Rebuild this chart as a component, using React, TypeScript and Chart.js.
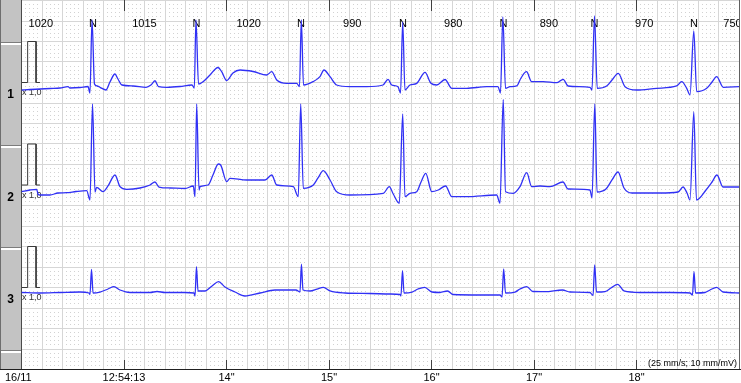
import React, { useEffect, useRef } from "react";
import { Chart, registerables } from "chart.js";

Chart.register(...registerables);

// ---- Data (time in s from 12:54:12, amplitude in mV) ----
const leadNames = ["1", "2", "3"];
const beatTimes = [0.698, 1.707, 2.727, 3.722, 4.702, 5.59, 6.561];
const beatCodes = ["N", "N", "N", "N", "N", "N", "N"];
const rrIntervals = [1020, 1015, 1020, 990, 980, 890, 970, 750];
const timeTicks = [1, 2, 3, 4, 5, 6];
const timeTickLabels = ["12:54:13", '14"', '15"', '16"', '17"', '18"'];
const dateLabel = "16/11";
const scaleNote = "(25 mm/s; 10 mm/mV)";
const gainLabel = "x 1,0";

const calTimes = [0.005, 0.06, 0.06, 0.142, 0.142, 0.18];
const calValues = [0, 0, 1, 1, 0, 0];

const lead1 = [
  [0.0, -0.183], [0.083, -0.171], [0.18, -0.159], [0.278, -0.146], [0.376, -0.134],
  [0.454, -0.102], [0.473, -0.134], [0.571, -0.122], [0.649, -0.098], [0.668, -0.256],
  [0.688, 1.524], [0.712, -0.037], [0.737, -0.085], [0.766, -0.117], [0.824, -0.183],
  [0.863, 0.012], [0.912, 0.207], [0.941, 0.085], [0.98, -0.061], [1.088, -0.085],
  [1.215, -0.117], [1.263, -0.061], [1.302, 0.043], [1.337, -0.102], [1.417, -0.117],
  [1.546, -0.098], [1.663, -0.061], [1.686, -0.134], [1.702, 1.524], [1.727, -0.037],
  [1.771, 0.02], [1.839, 0.183], [1.917, 0.366], [1.953, 0.263], [2.002, 0.049],
  [2.063, 0.232], [2.132, 0.305], [2.259, 0.268], [2.392, 0.183], [2.441, 0.263],
  [2.49, 0.061], [2.587, -0.02], [2.685, -0.02], [2.712, -0.102], [2.73, 1.524],
  [2.751, -0.061], [2.844, 0.02], [2.912, 0.142], [2.951, 0.305], [3.01, 0.142],
  [3.075, -0.061], [3.205, -0.102], [3.368, -0.102], [3.527, -0.061], [3.576, 0.078],
  [3.612, -0.061], [3.673, -0.102], [3.698, -0.256], [3.719, 1.476], [3.741, -0.183],
  [3.79, -0.061], [3.856, -0.02], [3.937, 0.249], [3.992, -0.012], [4.051, -0.061],
  [4.132, 0.073], [4.197, -0.142], [4.343, -0.142], [4.539, -0.102], [4.649, -0.102],
  [4.673, -0.256], [4.696, 1.598], [4.722, -0.142], [4.766, -0.102], [4.831, -0.085],
  [4.873, 0.11], [4.927, 0.263], [4.977, 0.02], [5.09, 0.02], [5.221, -0.005],
  [5.285, 0.078], [5.332, -0.085], [5.546, -0.117], [5.566, -0.183], [5.59, 1.622],
  [5.617, -0.142], [5.709, -0.085], [5.761, 0.061], [5.822, 0.224], [5.888, -0.102],
  [6.002, -0.183], [6.197, -0.142], [6.392, -0.085], [6.441, 0.02], [6.49, -0.142],
  [6.522, -0.305], [6.559, 1.256], [6.587, -0.224], [6.685, -0.142], [6.737, 0.012],
  [6.782, 0.141], [6.847, -0.117], [7.0, -0.102],
];

const lead2 = [
  [0.0, -0.163], [0.083, -0.122], [0.148, -0.105], [0.161, -0.22], [0.18, -0.244],
  [0.278, -0.244], [0.356, -0.195], [0.441, -0.188], [0.532, -0.159], [0.636, -0.139],
  [0.668, -0.366], [0.693, 1.976], [0.717, -0.171], [0.733, -0.056], [0.795, -0.163],
  [0.844, -0.024], [0.912, 0.244], [0.961, -0.041], [1.026, -0.105], [1.156, -0.073],
  [1.254, 0.0], [1.302, 0.073], [1.341, -0.049], [1.449, -0.073], [1.595, -0.085],
  [1.676, -0.024], [1.693, -0.285], [1.709, 1.976], [1.732, -0.122], [1.741, -0.041],
  [1.82, 0.0], [1.868, 0.244], [1.92, 0.512], [1.943, 0.488], [2.002, 0.08],
  [2.034, 0.163], [2.197, 0.122], [2.376, 0.122], [2.441, 0.244], [2.49, 0.0],
  [2.652, -0.041], [2.7, -0.285], [2.724, 1.976], [2.749, -0.08], [2.847, 0.0],
  [2.893, 0.171], [2.944, 0.349], [3.01, 0.122], [3.075, -0.163], [3.205, -0.244],
  [3.53, -0.202], [3.588, -0.041], [3.627, -0.22], [3.686, -0.446], [3.719, 1.732],
  [3.741, -0.285], [3.79, -0.202], [3.856, -0.163], [3.898, 0.073], [3.944, 0.285],
  [4.002, -0.163], [4.066, -0.122], [4.138, -0.024], [4.197, -0.285], [4.343, -0.285],
  [4.636, -0.244], [4.668, -0.446], [4.7, 2.085], [4.722, -0.163], [4.798, -0.202],
  [4.863, -0.041], [4.929, 0.3], [4.977, -0.041], [5.059, -0.024], [5.156, -0.041],
  [5.283, 0.073], [5.332, -0.098], [5.546, -0.122], [5.566, -0.317], [5.593, 1.976],
  [5.615, -0.171], [5.702, -0.098], [5.761, 0.122], [5.82, 0.317], [5.878, -0.073],
  [5.956, -0.195], [6.229, -0.195], [6.405, -0.171], [6.454, -0.049], [6.493, -0.195],
  [6.522, -0.366], [6.559, 1.78], [6.585, -0.366], [6.678, -0.122], [6.737, 0.073],
  [6.785, 0.244], [6.844, -0.049], [7.0, -0.049],
];

const lead3 = [
  [0.0, -0.122], [0.18, -0.134], [0.376, -0.122], [0.571, -0.11], [0.659, -0.134],
  [0.668, -0.171], [0.683, 0.444], [0.698, -0.134], [0.766, -0.11], [0.844, -0.037],
  [0.902, 0.02], [0.961, -0.061], [1.059, -0.122], [1.254, -0.122], [1.322, -0.098],
  [1.4, -0.122], [1.595, -0.122], [1.683, -0.134], [1.693, -0.207], [1.707, 0.507],
  [1.722, -0.085], [1.79, -0.085], [1.859, 0.037], [1.923, 0.141], [1.985, 0.012],
  [2.083, -0.11], [2.18, -0.207], [2.327, -0.134], [2.473, -0.061], [2.678, -0.061],
  [2.717, -0.11], [2.731, 0.568], [2.746, -0.061], [2.815, -0.085], [2.883, -0.037],
  [2.945, 0.005], [3.01, -0.085], [3.156, -0.134], [3.4, -0.146], [3.595, -0.159],
  [3.693, -0.171], [3.702, -0.207], [3.717, 0.41], [3.732, -0.134], [3.81, -0.11],
  [3.868, -0.037], [3.933, 0.005], [4.005, -0.11], [4.083, -0.122], [4.157, -0.085],
  [4.21, -0.171], [4.473, -0.183], [4.668, -0.183], [4.688, -0.232], [4.704, 0.451],
  [4.722, -0.134], [4.815, -0.11], [4.863, -0.037], [4.929, 0.02], [4.99, -0.098],
  [5.107, -0.102], [5.278, -0.061], [5.351, -0.11], [5.546, -0.122], [5.576, -0.195],
  [5.592, 0.549], [5.61, -0.11], [5.693, -0.098], [5.751, -0.012], [5.817, 0.078],
  [5.878, -0.085], [6.034, -0.122], [6.327, -0.122], [6.522, -0.134], [6.546, -0.183],
  [6.561, 0.385], [6.576, -0.134], [6.668, -0.122], [6.717, -0.061], [6.782, 0.005],
  [6.844, -0.11], [7.0, -0.134],
];

const leads = [lead1, lead2, lead3];

// ---- layout constants (paper: 25 mm/s, 10 mm/mV) ----
const STRIP_SECONDS = 7;
const STRIP_MM_HEIGHT = 90;
const LEAD_OFFSETS_MM = [70, 45, 20];
const MM_PER_MV = 10;
const TRACE_COLOR = "rgb(48,48,245)";
const FONT = '"Liberation Sans", Arial, sans-serif';

const ecgPlugin = {
  id: "ecgPaper",
  beforeDatasetsDraw(chart: any) {
    const ctx = chart.ctx as CanvasRenderingContext2D;
    const xs = chart.scales.x;
    const ys = chart.scales.y;
    const { left, right, top, bottom } = chart.chartArea;
    ctx.save();
    ctx.fillStyle = "#ffffff";
    ctx.fillRect(0, 0, chart.width, chart.height);

    // minor dots every 1 mm
    ctx.fillStyle = "#d2d2d2";
    for (let i = 0; i <= STRIP_SECONDS * 25; i++) {
      const px = Math.floor(xs.getPixelForValue(i * 0.04));
      for (let j = 0; j <= STRIP_MM_HEIGHT; j++) {
        const py = Math.floor(ys.getPixelForValue(j));
        ctx.fillRect(px, py, 1, 1);
      }
    }
    // major lines every 5 mm
    ctx.strokeStyle = "#d6d6d6";
    ctx.lineWidth = 1;
    ctx.beginPath();
    for (let i = 0; i <= STRIP_SECONDS * 5; i++) {
      const px = Math.floor(xs.getPixelForValue(i * 0.2)) + 0.5;
      ctx.moveTo(px, top);
      ctx.lineTo(px, bottom);
    }
    for (let j = 0; j <= STRIP_MM_HEIGHT; j += 5) {
      const py = Math.floor(ys.getPixelForValue(j)) + 0.5;
      ctx.moveTo(left, py);
      ctx.lineTo(right, py);
    }
    ctx.stroke();

    // left panel
    const pl = 0;
    const pr = Math.floor(left);
    ctx.fillStyle = "#c3c3c3";
    ctx.fillRect(pl, 0, pr - pl, bottom);
    const seps = [LEAD_OFFSETS_MM[0] + 9.5, LEAD_OFFSETS_MM[1] + 9.5, LEAD_OFFSETS_MM[2] + 9.5, LEAD_OFFSETS_MM[2] - 15.5];
    seps.forEach((mm) => {
      const py = Math.floor(ys.getPixelForValue(mm));
      ctx.fillStyle = "#7c7c7c";
      ctx.fillRect(pl, py - 1, pr - pl, 1);
      ctx.fillStyle = "#ffffff";
      ctx.fillRect(pl, py, pr - pl, 2);
    });
    ctx.fillStyle = "#6e6e6e";
    ctx.fillRect(0, 0, 1, bottom);
    ctx.fillStyle = "#4a4a4a";
    ctx.fillRect(pr, 0, 1, bottom);

    // right border
    ctx.fillStyle = "#606060";
    ctx.fillRect(Math.floor(right), 0, 1, bottom);

    // time ticks top and bottom
    ctx.strokeStyle = "#404040";
    ctx.beginPath();
    timeTicks.forEach((t) => {
      const px = Math.floor(xs.getPixelForValue(t)) + 0.5;
      ctx.moveTo(px, 0);
      ctx.lineTo(px, top + 10.5);
      ctx.moveTo(px, bottom - 9.5);
      ctx.lineTo(px, bottom);
    });
    ctx.stroke();

    // bottom axis line
    ctx.fillStyle = "#202020";
    ctx.fillRect(0, Math.floor(bottom), chart.width, 1);

    // top annotations
    ctx.fillStyle = "#000";
    ctx.font = "11px " + FONT;
    ctx.textAlign = "center";
    ctx.textBaseline = "middle";
    ctx.save();
    ctx.beginPath();
    ctx.rect(left, 0, right - left, bottom);
    ctx.clip();
    const ly = top + 23.5;
    beatTimes.forEach((t, i) => {
      ctx.fillText(beatCodes[i], xs.getPixelForValue(t), ly);
    });
    rrIntervals.forEach((rr, i) => {
      const t = i < beatTimes.length ? beatTimes[i] - rr / 2000 : beatTimes[beatTimes.length - 1] + rr / 2000;
      ctx.fillText(String(rr), xs.getPixelForValue(t), ly);
    });
    ctx.restore();

    // bottom labels
    ctx.fillStyle = "#000";
    ctx.font = "11px " + FONT;
    ctx.textBaseline = "middle";
    ctx.textAlign = "left";
    ctx.fillText(dateLabel, 5, bottom + 8);
    ctx.textAlign = "center";
    timeTicks.forEach((t, i) => {
      ctx.fillText(timeTickLabels[i], xs.getPixelForValue(t), bottom + 8);
    });
    ctx.font = "9px " + FONT;
    ctx.textAlign = "right";
    ctx.fillText(scaleNote, right - 2, bottom - 6);

    // lead labels and gain
    LEAD_OFFSETS_MM.forEach((off, k) => {
      ctx.fillStyle = "#000";
      ctx.font = "bold 12px " + FONT;
      ctx.textAlign = "center";
      ctx.fillText(leadNames[k], 10.5, ys.getPixelForValue(off - 3));
      ctx.fillStyle = "#333";
      ctx.font = "9px " + FONT;
      ctx.textAlign = "left";
      ctx.fillText(gainLabel, left + 0.5, ys.getPixelForValue(off) + 10.5);
    });
    ctx.restore();
  },
};

export default function App() {
  const ref = useRef<HTMLCanvasElement | null>(null);
  useEffect(() => {
    if (!ref.current) return;
    const datasets: any[] = [];
    leads.forEach((pts, k) => {
      datasets.push({
        data: pts.map(([t, v]) => ({ x: t, y: LEAD_OFFSETS_MM[k] + v * MM_PER_MV })),
        borderColor: TRACE_COLOR,
        borderWidth: 1.3,
        pointRadius: 0,
        cubicInterpolationMode: "monotone",
        fill: false,
      });
      datasets.push({
        data: calTimes.map((t, i) => ({ x: t, y: LEAD_OFFSETS_MM[k] + calValues[i] * MM_PER_MV })),
        borderColor: "#3a3a3a",
        borderWidth: 1,
        pointRadius: 0,
        tension: 0,
        fill: false,
      });
    });
    const chart = new Chart(ref.current, {
      type: "line",
      data: { datasets },
      options: {
        animation: false,
        responsive: false,
        devicePixelRatio: 1,
        layout: { padding: { left: 21.5, top: 0.5, right: 2, bottom: 13.5 } },
        plugins: { legend: { display: false }, tooltip: { enabled: false } },
        events: [],
        scales: {
          x: { type: "linear", min: 0, max: STRIP_SECONDS, display: false },
          y: { type: "linear", min: 0, max: STRIP_MM_HEIGHT, display: false },
        },
      },
      plugins: [ecgPlugin],
    });
    return () => chart.destroy();
  }, []);
  return (
    <div style={{ position: "fixed", left: 0, top: 0, width: 741, height: 383, background: "#fff" }}>
      <canvas ref={ref} width={741} height={383} style={{ display: "block" }} />
    </div>
  );
}
